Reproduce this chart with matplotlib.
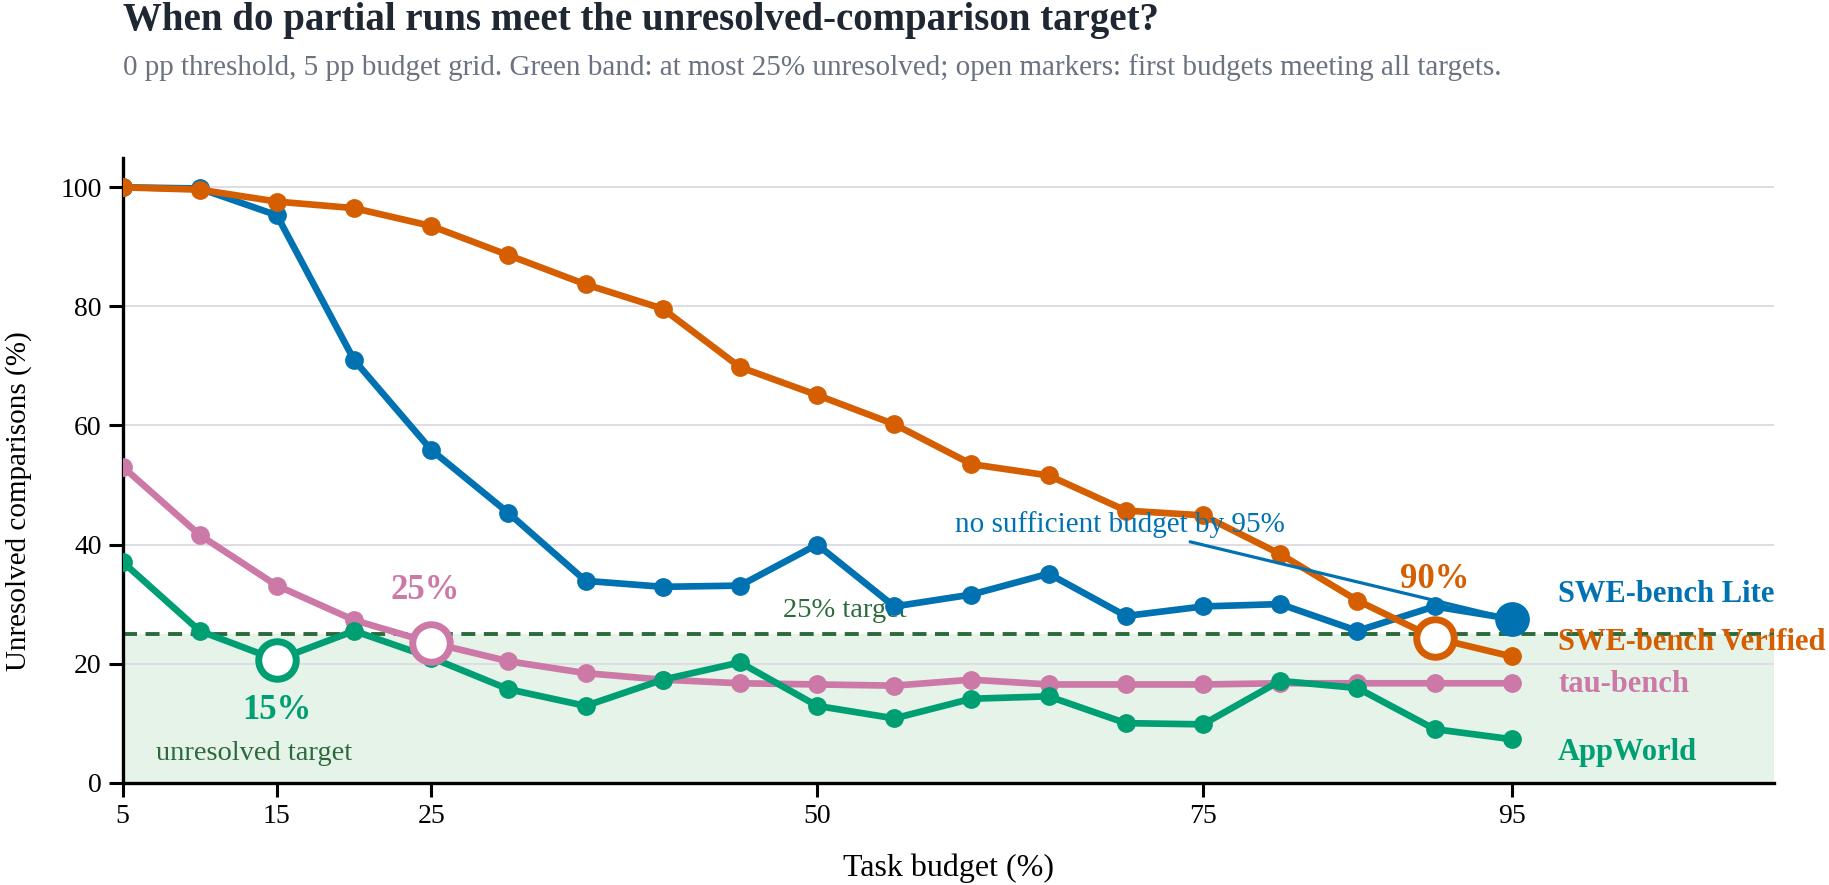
import matplotlib
matplotlib.use("Agg")
import matplotlib.pyplot as plt

plt.rcParams['font.family'] = ['Liberation Serif', 'DejaVu Serif']

budgets = [5, 10, 15, 20, 25, 30, 35, 40, 45, 50, 55, 60, 65, 70, 75, 80, 85, 90, 95]
swe_lite = [100, 99.8, 95.3, 71.0, 55.9, 45.3, 33.9, 32.9, 33.1, 40.0, 29.6, 31.6, 35.1, 28.0, 29.6, 30.0, 25.5, 29.6, 27.5]
swe_verified = [100, 99.6, 97.6, 96.5, 93.5, 88.6, 83.7, 79.6, 69.8, 65.1, 60.2, 53.5, 51.6, 45.7, 44.9, 38.4, 30.6, 24.3, 21.2]
tau_bench = [53.1, 41.6, 33.1, 27.3, 23.5, 20.4, 18.4, 17.3, 16.7, 16.5, 16.3, 17.3, 16.5, 16.5, 16.5, 16.7, 16.7, 16.7, 16.7]
appworld = [37.1, 25.5, 20.6, 25.5, 21.0, 15.7, 12.9, 17.3, 20.2, 12.9, 10.8, 14.1, 14.5, 10.0, 9.8, 17.1, 15.9, 9.0, 7.3]

series_names = ["SWE-bench Lite", "SWE-bench Verified", "tau-bench", "AppWorld"]
series_values = [swe_lite, swe_verified, tau_bench, appworld]
colors = ["#0072B2", "#D55E00", "#CC79A7", "#009E73"]
label_y = [31.6, 23.5, 16.5, 5.1]
first_budget = [None, 90, 25, 15]
first_label_x = [None, 90, 24.6, 15]
first_label_y = [None, 34.1, 32.2, 12.2]

target = 25
xticks = [5, 15, 25, 50, 75, 95]
yticks = [0, 20, 40, 60, 80, 100]
dark_green = "#2b6a3a"

fig = plt.figure(figsize=(18.29, 8.85), dpi=100)
ax = fig.add_axes([0.067, 0.1156, 0.903, 0.7064])

ax.axhspan(0, target, color="#e5f3e8", zorder=0, lw=0)
for yv in yticks[1:]:
    ax.axhline(yv, color="#dddde3", lw=1.4, zorder=0.5)
ax.axhline(target, color=dark_green, lw=2.8, ls=(0, (3.6, 2.2)), zorder=1)

for name, vals, c in zip(series_names, series_values, colors):
    ax.plot(budgets, vals, color=c, lw=4.8, marker='o', ms=12.5, zorder=3,
            solid_capstyle='round', solid_joinstyle='round')

# open markers for first budgets meeting target
for vals, c, fb, fx, fy in zip(series_values, colors, first_budget, first_label_x, first_label_y):
    if fb is None:
        continue
    i = budgets.index(fb)
    ax.plot([fb], [vals[i]], marker='o', ms=27, mfc='white', mec=c, mew=5, zorder=5, ls='none')
    ax.text(fx, fy, f"{fb}%", color=c, fontsize=25, fontweight='bold', ha='center', va='center', zorder=6)

# big filled marker for SWE-bench Lite end
ax.plot([budgets[-1]], [swe_lite[-1]], marker='o', ms=24, color=colors[0], zorder=5, ls='none')
ax.annotate("no sufficient budget by 95%", xy=(budgets[-1], swe_lite[-1]), xytext=(69.6, 43.3),
            color=colors[0], fontsize=21, ha='center', va='center',
            arrowprops=dict(arrowstyle='-', color=colors[0], lw=2.3, shrinkA=2, shrinkB=11), zorder=6)

ax.text(51.8, 29.0, "25% target", color=dark_green, fontsize=20.5, ha='center', va='center', zorder=2)
ax.text(13.5, 4.9, "unresolved target", color=dark_green, fontsize=20.5, ha='center', va='center', zorder=2)

for name, c, ly in zip(series_names, colors, label_y):
    ax.text(98.0, ly, name, color=c, fontsize=22, fontweight='bold', ha='left', va='center', zorder=6)

ax.set_xlim(5, 112)
ax.set_ylim(0, 105)
ax.set_xticks(xticks)
ax.set_yticks(yticks)
ax.tick_params(axis='both', labelsize=20, length=10, width=2.2, direction='out', colors='black', pad=5)
for s in ['top', 'right']:
    ax.spines[s].set_visible(False)
for s in ['left', 'bottom']:
    ax.spines[s].set_linewidth(2.4)
    ax.spines[s].set_color('black')
ax.set_xlabel("Task budget (%)", fontsize=23)
ax.set_ylabel("Unresolved comparisons (%)", fontsize=21)
ax.xaxis.label.set_va('center')
ax.xaxis.set_label_coords(0.5, -0.1365)
ax.yaxis.set_label_coords(-0.055, 0.45)

fig.text(0.067, 0.966, "When do partial runs meet the unresolved-comparison target?",
         fontsize=28, fontweight='bold', color="#1f2733", ha='left', va='baseline')
fig.text(0.067, 0.915, "0 pp threshold, 5 pp budget grid. Green band: at most 25% unresolved; open markers: first budgets meeting all targets.",
         fontsize=21, color="#6b7280", ha='left', va='baseline')

fig.savefig("out.png", dpi=100)
